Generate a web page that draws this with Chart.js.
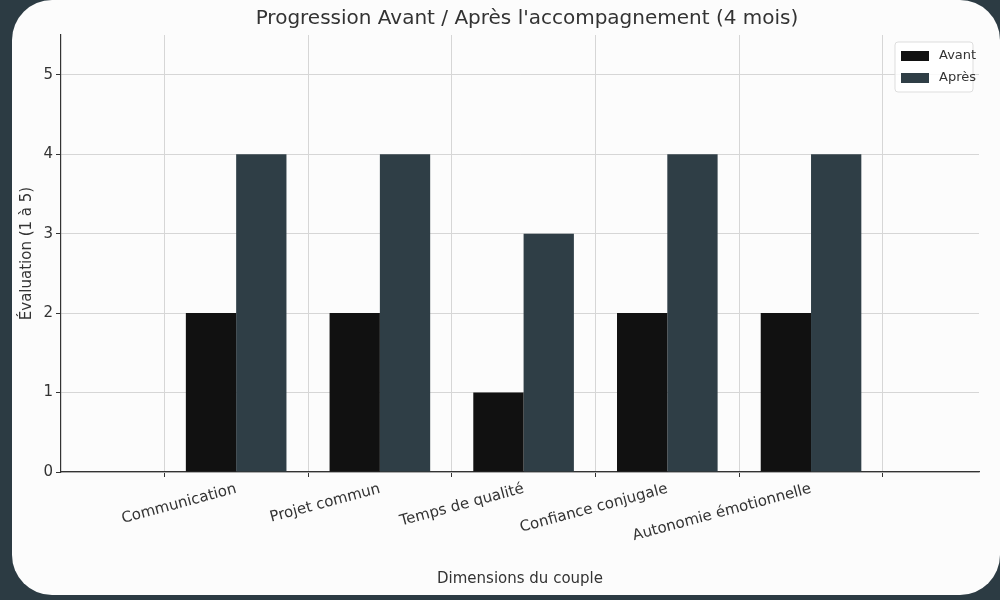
<!DOCTYPE html>
<html>
<head>
<meta charset="utf-8">
<script src="https://cdn.jsdelivr.net/npm/chart.js@4"></script>
<style>
  body { margin: 0; background: #2c3b43; width: 1000px; height: 600px; overflow: hidden; }
  .card { position: absolute; left: 12px; top: 0; width: 988px; height: 595px; background: #fcfcfc; border-radius: 40px; }
  #wrap { position: absolute; left: 0; top: 0; width: 1000px; height: 600px; }
</style>
</head>
<body>
<div class="card"></div>
<div id="wrap"><canvas id="chart" width="1000" height="600"></canvas></div>
<script>
const categories = ['Communication', 'Projet commun', 'Temps de qualité', 'Confiance conjugale', 'Autonomie émotionnelle'];
const avant = [2, 2, 1, 2, 2];
const apres = [4, 4, 3, 4, 4];
const yTicks = [0, 1, 2, 3, 4, 5];

const font = "'DejaVu Sans', sans-serif";
const grid = { color: '#d6d6d6', tickColor: '#333', tickLength: 5 };

// matplotlib style legend box inside the plot + the title
const extras = {
    id: 'extras',
    afterDraw(c) {
        const ctx = c.ctx, a = c.chartArea;
        ctx.save();
        ctx.fillStyle = '#333';
        ctx.font = '20px ' + font;
        ctx.textAlign = 'center';
        ctx.textBaseline = 'middle';
        ctx.fillText("Progression Avant / Après l'accompagnement (4 mois)", 527, 19);

        const x = a.right - 84, y = a.top + 7;
        ctx.fillStyle = 'rgba(255,255,255,0.85)';
        ctx.strokeStyle = '#ddd';
        ctx.beginPath();
        ctx.roundRect(x, y, 78, 50, 3);
        ctx.fill();
        ctx.stroke();
        ctx.font = '13px ' + font;
        ctx.textAlign = 'left';
        c.data.datasets.forEach((ds, i) => {
            ctx.fillStyle = ds.backgroundColor;
            ctx.fillRect(x + 6, y + 9 + i * 22, 28, 10);
            ctx.fillStyle = '#333';
            ctx.fillText(ds.label, x + 44, y + 14 + i * 22);
        });
        ctx.restore();
    }
};

new Chart(document.querySelector('#chart'), {
    type: 'bar',
    data: {
        datasets: [
            { label: 'Avant', data: avant.map((v, i) => ({ x: i, y: v })), backgroundColor: '#111111' },
            { label: 'Après', data: apres.map((v, i) => ({ x: i, y: v })), backgroundColor: '#2f3e46' }
        ]
    },
    options: {
        responsive: false,
        animation: false,
        devicePixelRatio: 1,
        categoryPercentage: 0.7,
        barPercentage: 1,
        layout: { padding: { left: 18, top: 35, right: 21, bottom: 12 } },
        plugins: { legend: { display: false }, tooltip: { enabled: false } },
        scales: {
            x: {
                type: 'linear',
                min: -0.58,
                max: 4.53,
                afterBuildTicks: s => { s.ticks = categories.map((_, i) => ({ value: i })); },
                afterFit: s => { s.height = 116; },
                ticks: {
                    color: '#333', font: { family: font, size: 15 },
                    minRotation: 15, maxRotation: 15, autoSkip: false,
                    callback: v => categories[v]
                },
                grid: { ...grid },
                border: { display: true, color: '#333', width: 1.2 },
                title: { display: true, text: 'Dimensions du couple', color: '#333', font: { family: font, size: 15 }, padding: 0 }
            },
            y: {
                min: 0,
                max: 5.5,
                afterBuildTicks: s => { s.ticks = yTicks.map(v => ({ value: v })); },
                afterFit: s => { s.width = 43; },
                ticks: { color: '#333', font: { family: font, size: 15 } },
                grid: { ...grid },
                border: { display: true, color: '#333', width: 1.2 },
                title: { display: true, text: 'Évaluation (1 à 5)', color: '#333', font: { family: font, size: 15 }, padding: 0 }
            }
        }
    },
    plugins: [extras]
});
</script>
</body>
</html>
